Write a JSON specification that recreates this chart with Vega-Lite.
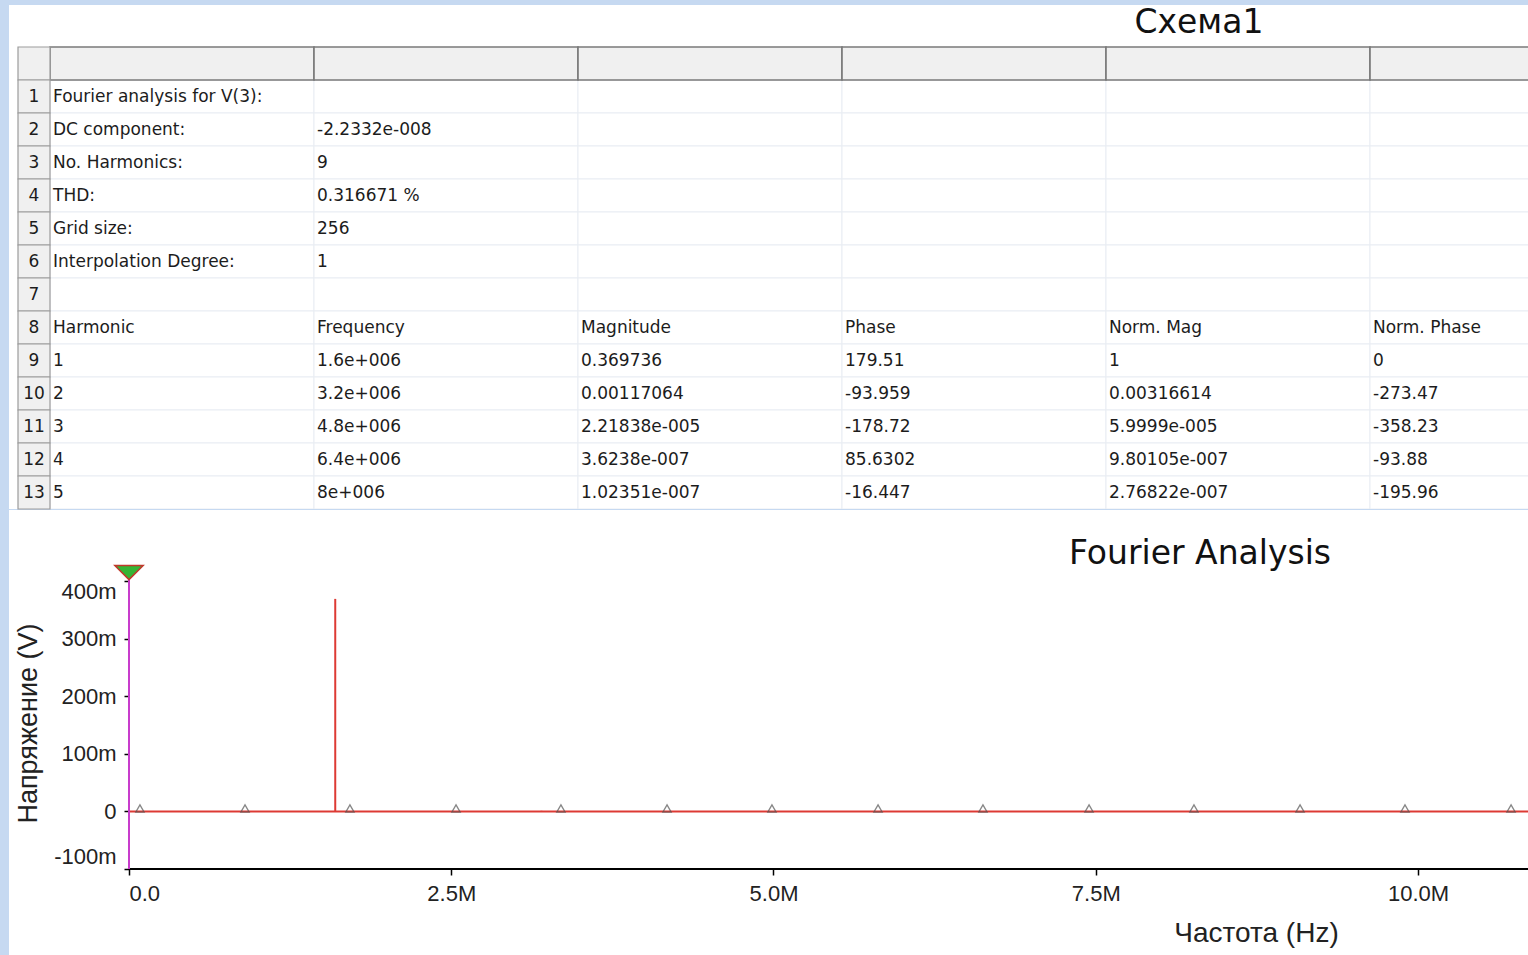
{
  "$schema": "https://vega.github.io/schema/vega-lite/v6.json",
  "background": "#c6d9f1",
  "padding": {"left": 9, "top": 5, "right": 0, "bottom": 0},
  "spacing": 0,
  "config": {"view": {"stroke": null}},
  "datasets": {
    "table": [
      {"row": 0, "c1": "", "c2": "", "c3": "", "c4": "", "c5": "", "c6": ""},
      {"row": 1, "c1": "Fourier analysis for V(3):", "c2": "", "c3": "", "c4": "", "c5": "", "c6": ""},
      {"row": 2, "c1": "DC component:", "c2": "-2.2332e-008", "c3": "", "c4": "", "c5": "", "c6": ""},
      {"row": 3, "c1": "No. Harmonics:", "c2": "9", "c3": "", "c4": "", "c5": "", "c6": ""},
      {"row": 4, "c1": "THD:", "c2": "0.316671 %", "c3": "", "c4": "", "c5": "", "c6": ""},
      {"row": 5, "c1": "Grid size:", "c2": "256", "c3": "", "c4": "", "c5": "", "c6": ""},
      {"row": 6, "c1": "Interpolation Degree:", "c2": "1", "c3": "", "c4": "", "c5": "", "c6": ""},
      {"row": 7, "c1": "", "c2": "", "c3": "", "c4": "", "c5": "", "c6": ""},
      {"row": 8, "c1": "Harmonic", "c2": "Frequency", "c3": "Magnitude", "c4": "Phase", "c5": "Norm. Mag", "c6": "Norm. Phase"},
      {"row": 9, "c1": "1", "c2": "1.6e+006", "c3": "0.369736", "c4": "179.51", "c5": "1", "c6": "0"},
      {"row": 10, "c1": "2", "c2": "3.2e+006", "c3": "0.00117064", "c4": "-93.959", "c5": "0.00316614", "c6": "-273.47"},
      {"row": 11, "c1": "3", "c2": "4.8e+006", "c3": "2.21838e-005", "c4": "-178.72", "c5": "5.9999e-005", "c6": "-358.23"},
      {"row": 12, "c1": "4", "c2": "6.4e+006", "c3": "3.6238e-007", "c4": "85.6302", "c5": "9.80105e-007", "c6": "-93.88"},
      {"row": 13, "c1": "5", "c2": "8e+006", "c3": "1.02351e-007", "c4": "-16.447", "c5": "2.76822e-007", "c6": "-195.96"}
    ],
    "harmonics": [
      {"harmonic": 1, "freq": 1600000, "mag": 0.369736},
      {"harmonic": 2, "freq": 3200000, "mag": 0.00117064},
      {"harmonic": 3, "freq": 4800000, "mag": 0.0000221838},
      {"harmonic": 4, "freq": 6400000, "mag": 0.00000036238},
      {"harmonic": 5, "freq": 8000000, "mag": 0.000000102351}
    ],
    "markers": [
      {"freq": 85000}, {"freq": 900000}, {"freq": 1714000}, {"freq": 2537000},
      {"freq": 3351000}, {"freq": 4174000}, {"freq": 4988000}, {"freq": 5811000},
      {"freq": 6625000}, {"freq": 7448000}, {"freq": 8262000}, {"freq": 9085000},
      {"freq": 9899000}, {"freq": 10722000}
    ]
  },
  "vconcat": [
    {
      "width": 1519,
      "height": 504,
      "view": {"fill": "white", "stroke": null},
      "data": {"name": "table"},
      "layer": [
        {
          "transform": [{"fold": ["c1", "c2", "c3", "c4", "c5", "c6"]}],
          "encoding": {
            "x": {"field": "key", "type": "nominal", "scale": {"domain": ["c1", "c2", "c3", "c4", "c5", "c6"], "range": [41, 1625], "paddingInner": 0, "paddingOuter": 0}, "axis": null},
            "y": {"field": "row", "type": "ordinal", "scale": {"domain": [0, 1, 2, 3, 4, 5, 6, 7, 8, 9, 10, 11, 12, 13], "range": [42, 504], "paddingInner": 0, "paddingOuter": 0}, "axis": null}
          },
          "layer": [
            {
              "transform": [{"filter": "datum.row > 0"}],
              "mark": {"type": "rect", "fill": "white", "stroke": "#e9edf3", "strokeWidth": 1, "clip": true}
            },
            {
              "transform": [{"filter": "datum.row == 0"}],
              "mark": {"type": "rect", "fill": "#f0f0f0", "stroke": "#7a7a7a", "strokeWidth": 1.6, "clip": true}
            },
            {
              "transform": [{"filter": "datum.row > 0"}],
              "mark": {"type": "text", "align": "left", "baseline": "middle", "dx": 3, "font": "DejaVu Sans", "fontSize": 17, "color": "#1c1c1c", "clip": true},
              "encoding": {
                "x": {"field": "key", "type": "nominal", "bandPosition": 0, "scale": {"domain": ["c1", "c2", "c3", "c4", "c5", "c6"], "range": [41, 1625], "paddingInner": 0, "paddingOuter": 0}, "axis": null},
                "text": {"field": "value"}
              }
            },
            {
              "data": {"values": [{"label": "Схема1"}]},
              "mark": {"type": "text", "align": "center", "baseline": "middle", "dy": -41, "font": "DejaVu Sans", "fontSize": 33, "color": "#111111"},
              "encoding": {
                "x": {"datum": "c5", "type": "nominal", "bandPosition": 0.352, "scale": {"domain": ["c1", "c2", "c3", "c4", "c5", "c6"], "range": [41, 1625], "paddingInner": 0, "paddingOuter": 0}, "axis": null},
                "y": {"datum": 0, "type": "ordinal", "scale": {"domain": [0, 1, 2, 3, 4, 5, 6, 7, 8, 9, 10, 11, 12, 13], "range": [42, 504], "paddingInner": 0, "paddingOuter": 0}, "axis": null},
                "text": {"field": "label"}
              }
            }
          ]
        },
        {
          "encoding": {
            "x": {"datum": 0, "type": "quantitative", "scale": {"domain": [0, 1], "range": [9, 41]}, "axis": null},
            "y": {"field": "row", "type": "ordinal", "scale": {"domain": [0, 1, 2, 3, 4, 5, 6, 7, 8, 9, 10, 11, 12, 13], "range": [42, 504], "paddingInner": 0, "paddingOuter": 0}, "axis": null}
          },
          "layer": [
            {
              "mark": {"type": "rect", "fill": "#f0f0f0", "stroke": "#9c9c9c", "strokeWidth": 1.2},
              "encoding": {"x2": {"datum": 1}}
            },
            {
              "transform": [{"filter": "datum.row > 0"}],
              "mark": {"type": "text", "align": "center", "baseline": "middle", "font": "DejaVu Sans", "fontSize": 17, "color": "#1c1c1c"},
              "encoding": {
                "x": {"datum": 0.5, "type": "quantitative", "scale": {"domain": [0, 1], "range": [9, 41]}, "axis": null},
                "text": {"field": "row", "type": "nominal"}
              }
            }
          ]
        }
      ],
      "resolve": {"scale": {"x": "independent"}}
    },
    {
      "width": 1519,
      "height": 446,
      "view": {"fill": "white", "stroke": null},
      "layer": [
        {
          "data": {"name": "harmonics"},
          "mark": {"type": "rule", "color": "#dd3a34", "strokeWidth": 2},
          "encoding": {
            "x": {
              "field": "freq", "type": "quantitative", "title": "Частота (Hz)",
              "scale": {"domain": [-930954, 10853375], "nice": false, "zero": false},
              "axis": {
                "title": "Частота (Hz)", "offset": -87, "domain": false, "grid": false,
                "values": [0, 2500000, 5000000, 7500000, 10000000],
                "labelExpr": "datum.value == 0 ? '0.0' : format(datum.value / 1000000, '.1f') + 'M'",
                "labelAlign": {"condition": {"test": "datum.value == 0", "value": "left"}, "value": "center"},
                "labelFont": "Liberation Sans", "labelFontSize": 22, "labelColor": "#222222",
                "labelPadding": 8, "labelBaseline": "top",
                "tickSize": 6, "tickColor": "#000000", "tickWidth": 1.5,
                "titleFont": "Liberation Sans", "titleFontSize": 28, "titleFontWeight": "normal", "titleColor": "#222222",
                "titleX": 1247, "titleY": 64, "titleAlign": "center", "titleBaseline": "middle", "titleAngle": 0
              }
            },
            "y": {
              "field": "mag", "type": "quantitative", "title": "Напряжение (V)",
              "scale": {"domain": [-0.2513, 0.5243], "nice": false, "zero": false},
              "axis": {
                "title": "Напряжение (V)", "offset": -120, "domain": false, "grid": false,
                "values": [-0.1, 0, 0.1, 0.2, 0.3, 0.4],
                "labelExpr": "datum.value == 0 ? '0' : (datum.value < 0 ? '-' : '') + format(abs(datum.value) * 1000, 'd') + 'm'",
                "labelBaseline": {"condition": [{"test": "datum.value > 0.35", "value": "top"}, {"test": "datum.value < -0.05", "value": "bottom"}], "value": "middle"},
                "labelFont": "Liberation Sans", "labelFontSize": 22, "labelColor": "#222222",
                "labelPadding": 8,
                "tickSize": 5, "tickColor": "#000000", "tickWidth": 1.5,
                "titleFont": "Liberation Sans", "titleFontSize": 27, "titleFontWeight": "normal", "titleColor": "#222222",
                "titleX": -101, "titleY": 213, "titleAlign": "center", "titleBaseline": "middle", "titleAngle": -90
              }
            },
            "y2": {"datum": 0}
          }
        },
        {
          "data": {"values": [{}]},
          "mark": {"type": "rule", "color": "#dd3a34", "strokeWidth": 2, "clip": true},
          "encoding": {
            "x": {"datum": 0, "type": "quantitative", "title": "Частота (Hz)", "scale": {"domain": [-930954, 10853375], "nice": false, "zero": false}},
            "x2": {"datum": 10853375},
            "y": {"datum": 0, "type": "quantitative", "title": "Напряжение (V)", "scale": {"domain": [-0.2513, 0.5243], "nice": false, "zero": false}}
          }
        },
        {
          "data": {"name": "markers"},
          "mark": {"type": "point", "shape": "triangle-up", "size": 70, "filled": false, "stroke": "#555555", "strokeWidth": 1.3, "yOffset": -3},
          "encoding": {
            "x": {"field": "freq", "type": "quantitative", "title": "Частота (Hz)", "scale": {"domain": [-930954, 10853375], "nice": false, "zero": false}},
            "y": {"datum": 0, "type": "quantitative", "title": "Напряжение (V)", "scale": {"domain": [-0.2513, 0.5243], "nice": false, "zero": false}}
          }
        },
        {
          "data": {"values": [{}]},
          "mark": {"type": "rule", "color": "#000000", "strokeWidth": 2, "clip": true},
          "encoding": {
            "x": {"datum": 0, "type": "quantitative", "title": "Частота (Hz)", "scale": {"domain": [-930954, 10853375], "nice": false, "zero": false}},
            "x2": {"datum": 10853375},
            "y": {"datum": -0.1, "type": "quantitative", "title": "Напряжение (V)", "scale": {"domain": [-0.2513, 0.5243], "nice": false, "zero": false}}
          }
        },
        {
          "data": {"values": [{}]},
          "mark": {"type": "rule", "color": "#c83ccc", "strokeWidth": 2},
          "encoding": {
            "x": {"datum": 0, "type": "quantitative", "title": "Частота (Hz)", "scale": {"domain": [-930954, 10853375], "nice": false, "zero": false}},
            "y": {"datum": -0.1, "type": "quantitative", "title": "Напряжение (V)", "scale": {"domain": [-0.2513, 0.5243], "nice": false, "zero": false}},
            "y2": {"datum": 0.412}
          }
        },
        {
          "data": {"values": [{}]},
          "mark": {"type": "point", "shape": "M-1,-0.5L1,-0.5L0,0.5Z", "size": 800, "filled": true, "fill": "#35b535", "stroke": "#c0392b", "strokeWidth": 1.5, "opacity": 1},
          "encoding": {
            "x": {"datum": 0, "type": "quantitative", "title": "Частота (Hz)", "scale": {"domain": [-930954, 10853375], "nice": false, "zero": false}},
            "y": {"datum": 0.4155, "type": "quantitative", "title": "Напряжение (V)", "scale": {"domain": [-0.2513, 0.5243], "nice": false, "zero": false}}
          }
        },
        {
          "data": {"values": [{"label": "Fourier Analysis"}]},
          "mark": {"type": "text", "align": "center", "baseline": "middle", "font": "DejaVu Sans", "fontSize": 33, "color": "#111111"},
          "encoding": {
            "x": {"datum": 8309000, "type": "quantitative", "title": "Частота (Hz)", "scale": {"domain": [-930954, 10853375], "nice": false, "zero": false}},
            "y": {"datum": 0.4478, "type": "quantitative", "title": "Напряжение (V)", "scale": {"domain": [-0.2513, 0.5243], "nice": false, "zero": false}},
            "text": {"field": "label"}
          }
        }
      ]
    }
  ]
}
